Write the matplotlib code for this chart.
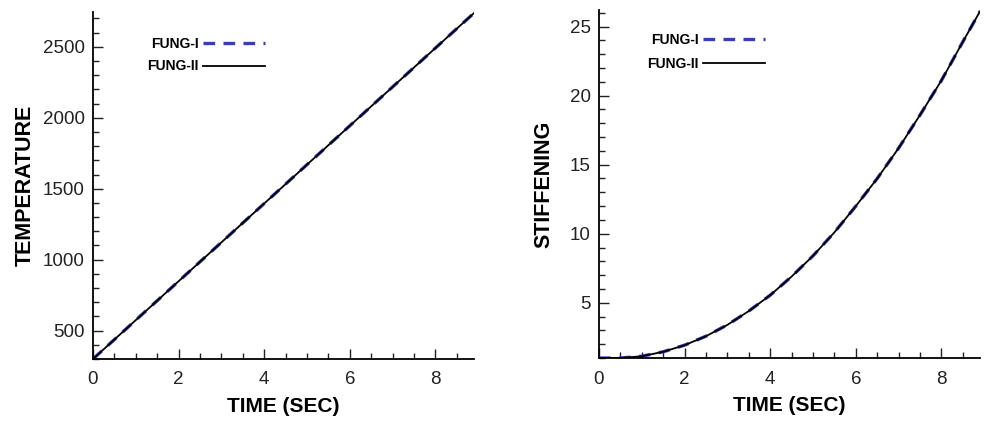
import matplotlib
matplotlib.use("Agg")
import matplotlib.pyplot as plt
from matplotlib.ticker import MultipleLocator

plt.rcParams['font.family'] = ['Liberation Sans', 'DejaVu Sans']

# data
time_t = [0, 1, 2, 3, 4, 5, 6, 7, 8, 8.9]
temp_fung1 = [300, 574, 848, 1122, 1396, 1670, 1944, 2218, 2492, 2738]
temp_fung2 = [300, 574, 848, 1122, 1396, 1670, 1944, 2218, 2492, 2738]

time_s = [0, 0.5, 1, 1.5, 2, 2.5, 3, 3.5, 4, 4.5, 5, 5.5, 6, 6.5, 7, 7.5, 8, 8.5, 8.9]
stiff_fung1 = [1.0, 1.0, 1.13, 1.45, 1.93, 2.58, 3.4, 4.4, 5.55, 6.9, 8.4, 10.1, 12.0, 14.0, 16.2, 18.6, 21.1, 23.9, 26.1]
stiff_fung2 = [1.0, 1.0, 1.13, 1.45, 1.93, 2.58, 3.4, 4.4, 5.55, 6.9, 8.4, 10.1, 12.0, 14.0, 16.2, 18.6, 21.1, 23.9, 26.1]

blue = "#3b3fae"

fig = plt.figure(figsize=(9.84, 4.21), dpi=100)
ax1 = fig.add_axes([0.0945, 0.1473, 0.3872, 0.824])
ax2 = fig.add_axes([0.6087, 0.1496, 0.3872, 0.8266])


def style(ax, ymajor, yminor):
    ax.spines['top'].set_visible(False)
    ax.spines['right'].set_visible(False)
    ax.spines['left'].set_linewidth(1.3)
    ax.spines['bottom'].set_linewidth(1.3)
    ax.xaxis.set_major_locator(MultipleLocator(2))
    ax.xaxis.set_minor_locator(MultipleLocator(0.5))
    ax.yaxis.set_major_locator(MultipleLocator(ymajor))
    ax.yaxis.set_minor_locator(MultipleLocator(yminor))
    ax.tick_params(which='both', direction='in', width=1.0, labelsize=13.5, colors='#222222')
    ax.tick_params(which='major', length=7, pad=6)
    ax.tick_params(axis='x', which='major', pad=9)
    ax.tick_params(which='minor', length=4.5)
    ax.set_xlabel("TIME (SEC)", fontsize=15, fontweight='bold', labelpad=6)


ax1.plot(time_t, temp_fung1, color=blue, lw=2.4, dashes=(3.5, 2.5), label="FUNG-I")
ax1.plot(time_t, temp_fung2, color='black', lw=1.3, label="FUNG-II")
ax1.set_xlim(0, 8.9)
ax1.set_ylim(300, 2745)
style(ax1, 500, 100)
ax1.set_ylabel("TEMPERATURE", fontsize=15.5, fontweight='bold', labelpad=5)
ax1.legend(loc='upper right', bbox_to_anchor=(0.452, 0.928), frameon=False, markerfirst=False,
           prop={'weight': 'bold', 'size': 10}, handlelength=4.5, handletextpad=0.3,
           borderpad=0, borderaxespad=0, labelspacing=0.6)

ax2.plot(time_s, stiff_fung1, color=blue, lw=2.4, dashes=(3.5, 2.5), label="FUNG-I")
ax2.plot(time_s, stiff_fung2, color='black', lw=1.3, label="FUNG-II")
ax2.set_xlim(0, 8.9)
ax2.set_ylim(1, 26.2)
style(ax2, 5, 1)
ax2.set_ylabel("STIFFENING", fontsize=15.5, fontweight='bold', labelpad=11)
ax2.legend(loc='upper right', bbox_to_anchor=(0.437, 0.935), frameon=False, markerfirst=False,
           prop={'weight': 'bold', 'size': 10}, handlelength=4.5, handletextpad=0.3,
           borderpad=0, borderaxespad=0, labelspacing=0.75)

fig.savefig("out.png", dpi=100)
